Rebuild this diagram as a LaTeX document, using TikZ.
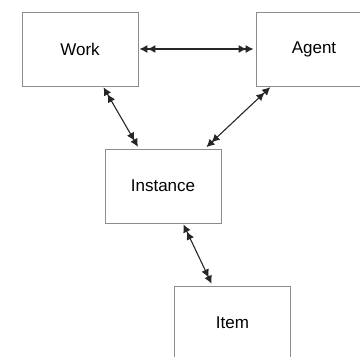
\documentclass[tikz,border=0pt]{standalone}
\usepackage{fontspec}
\setmainfont{Liberation Sans}
\usetikzlibrary{arrows.meta}
\begin{document}
\begin{tikzpicture}[x=1pt, y=-1pt,
    entity/.style={draw=black!45, line width=0.9pt, fill=white, minimum width=116pt, minimum height=74pt, inner sep=0pt, font=\fontsize{17}{20}\selectfont},
    link/.style={{Latex[length=8pt,width=8pt,sep=-1pt] Latex[length=8pt,width=8pt]}-{Latex[length=8pt,width=8pt,sep=-1pt] Latex[length=8pt,width=8pt]}, black!85, line width=1.1pt, shorten <=2pt, shorten >=2pt}]
				\useasboundingbox (0,0) rectangle (360,357);
				\clip (0,0) rectangle (360,357);
				\node[entity] (work) at (80,49) {Work};
				\node[entity] (agent) at (314,49) {Agent};
				\node[entity] (instance) at (163,186) {Instance};
				\node[entity] (item) at (232.5,323) {Item};
				\draw[link] (work) -- (agent);
				\draw[link] ([xshift=23pt]work.south) -- ([xshift=-24pt]instance.north);
				\draw[link] ([xshift=-43pt]agent.south) -- ([xshift=42pt]instance.north);
				\draw[link] ([xshift=20pt]instance.south) -- ([xshift=-20pt]item.north);
			\end{tikzpicture}
\end{document}
